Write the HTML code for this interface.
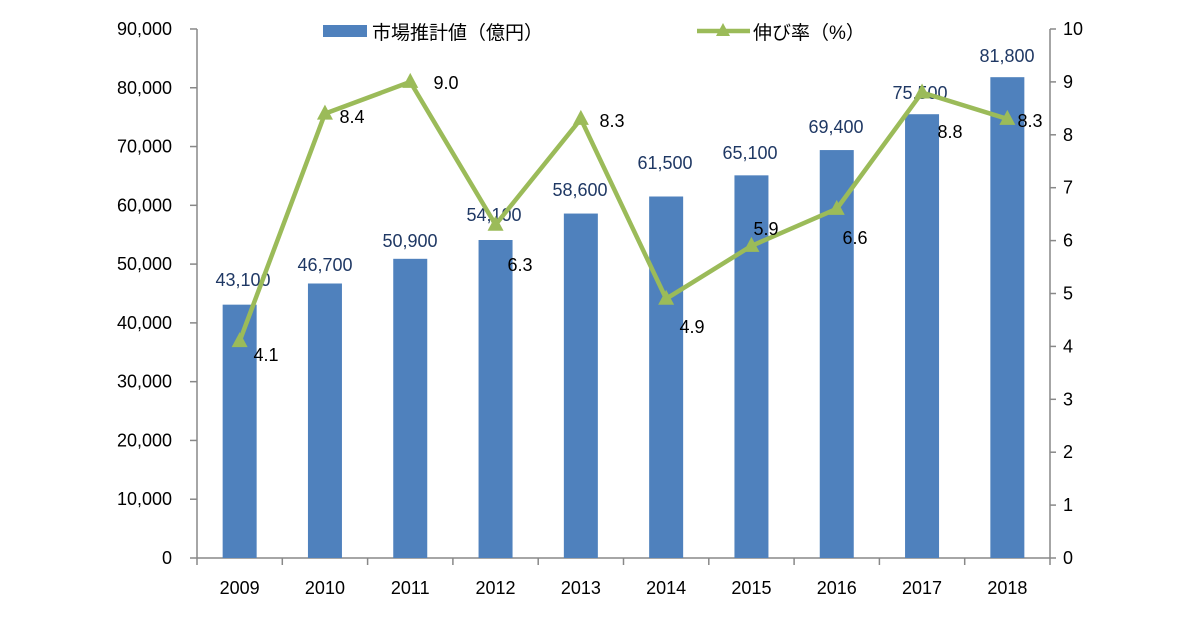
<!DOCTYPE html>
<html><head><meta charset="utf-8"><style>body{margin:0;background:#fff}svg{display:block}</style></head><body>
<svg width="1200" height="630" viewBox="0 0 1200 630" xmlns="http://www.w3.org/2000/svg" font-family="'Liberation Sans','Noto Sans CJK JP',sans-serif">
<rect width="1200" height="630" fill="#fff"/>
<g stroke="#888" stroke-width="1.5" fill="none">
<line x1="197" y1="29" x2="197" y2="558"/>
<line x1="1050" y1="29" x2="1050" y2="558"/>
<line x1="197" y1="558" x2="1050" y2="558"/>
</g>
<g id="ticks" stroke="#888" stroke-width="1.5"></g>
<g id="bars" fill="#4F81BD"></g>
<g id="lbl" font-size="18"></g>
<polyline id="ln" fill="none" stroke="#9BBB59" stroke-width="4.5" stroke-linejoin="round"/>
<g id="mk" fill="#9BBB59"></g>
<rect x="323" y="25" width="44" height="12" fill="#4F81BD"/>
<text x="372" y="39" font-size="19" fill="#000">市場推計値（億円）</text>
<line x1="697" y1="31" x2="750" y2="31" stroke="#9BBB59" stroke-width="4.5"/>
<polygon points="723,23 716,36 730,36" fill="#9BBB59"/>
<text x="753" y="39" font-size="19" fill="#000">伸び率（%）</text>
<script>
var NS="http://www.w3.org/2000/svg";
function el(p,t,a,txt){var e=document.createElementNS(NS,t);for(var k in a)e.setAttribute(k,a[k]);if(txt!=null)e.textContent=txt;document.getElementById(p).appendChild(e);return e;}
var years=[2009,2010,2011,2012,2013,2014,2015,2016,2017,2018];
var vals=[43100,46700,50900,54100,58600,61500,65100,69400,75500,81800];
var rates=[4.1,8.4,9.0,6.3,8.3,4.9,5.9,6.6,8.8,8.3];
var rl=[[266,355],[352,117],[446,83],[520,265],[612,121],[692,327],[766,229],[855,238],[950,132],[1030,121]];
var bl=[[243,280],[325,265],[410,241],[494,215],[580,190],[665,163],[750,153],[836,127],[920,93],[1007,56]];
var cw=85.3,pts=[];
for(var i=0;i<=9;i++){
 var y=558-i*58.78;
 el("ticks","line",{x1:190,y1:y,x2:197,y2:y});
 el("lbl","text",{x:172,y:y+6,"text-anchor":"end"},(i*10000).toLocaleString("en-US"));
}
for(var i=0;i<=10;i++){
 var y=558-i*52.9;
 el("ticks","line",{x1:1050,y1:y,x2:1056,y2:y});
 el("lbl","text",{x:1063,y:y+6},String(i));
}
for(var i=0;i<=10;i++){var x=197+i*cw;el("ticks","line",{x1:x,y1:558,x2:x,y2:565});}
for(var i=0;i<10;i++){
 var cx=197+cw*(i+0.5),h=vals[i]*0.005878;
 el("bars","rect",{x:cx-17,y:558-h,width:34,height:h});
 el("lbl","text",{x:cx,y:594,"text-anchor":"middle"},String(years[i]));
 el("lbl","text",{x:bl[i][0],y:bl[i][1]+6,"text-anchor":"middle",fill:"#1F3864"},vals[i].toLocaleString("en-US"));
 var py=558-rates[i]*52.9;pts.push(cx+","+py);
 el("mk","polygon",{points:cx+","+(py-9)+" "+(cx-8)+","+(py+6)+" "+(cx+8)+","+(py+6)});
}
document.getElementById("ln").setAttribute("points",pts.join(" "));
for(var i=0;i<10;i++){el("mk","text",{x:rl[i][0],y:rl[i][1]+6,"text-anchor":"middle","font-size":18,fill:"#000"},rates[i].toFixed(1));}
</script>
</svg>
</body></html>
